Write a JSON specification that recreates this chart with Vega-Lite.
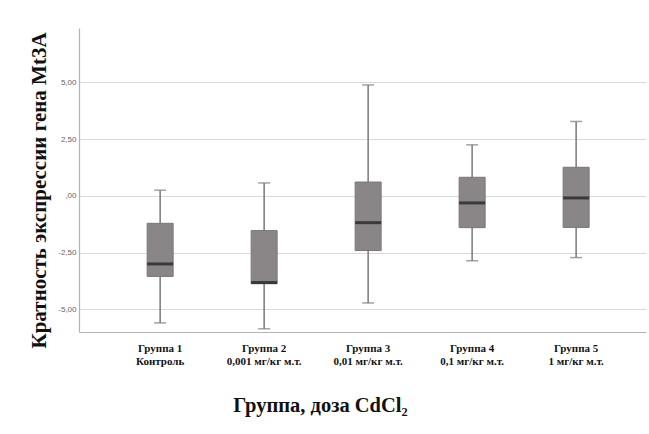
{
  "$schema": "https://vega.github.io/schema/vega-lite/v6.json",
  "autosize": {"type": "none"},
  "width": 567,
  "height": 304,
  "padding": {"left": 79, "top": 28, "right": 3, "bottom": 102},
  "background": "white",
  "config": {
    "view": {"stroke": null},
    "axis": {"domainColor": "#b3b3b3", "domainWidth": 1.2, "gridColor": "#d9d9d9", "gridWidth": 1.2}
  },
  "data": {
    "values": [
      {"group": "Группа 1|Контроль", "lower": -5.6, "q1": -3.55, "median": -3.0, "q3": -1.21, "upper": 0.25},
      {"group": "Группа 2|0,001 мг/кг м.т.", "lower": -5.86, "q1": -3.87, "median": -3.82, "q3": -1.53, "upper": 0.57},
      {"group": "Группа 3|0,01 мг/кг м.т.", "lower": -4.72, "q1": -2.41, "median": -1.18, "q3": 0.61, "upper": 4.89},
      {"group": "Группа 4|0,1 мг/кг м.т.", "lower": -2.86, "q1": -1.4, "median": -0.31, "q3": 0.82, "upper": 2.25},
      {"group": "Группа 5|1 мг/кг м.т.", "lower": -2.72, "q1": -1.39, "median": -0.09, "q3": 1.26, "upper": 3.28}
    ]
  },
  "encoding": {
    "x": {
      "field": "group",
      "type": "nominal",
      "sort": null,
      "scale": {"paddingInner": 0, "paddingOuter": 0.226, "align": 0.62},
      "axis": {
        "labelAngle": 0,
        "labelExpr": "split(datum.value, '|')",
        "labelFont": "Liberation Serif",
        "labelFontWeight": "bold",
        "labelFontSize": 11,
        "labelLineHeight": 13,
        "labelColor": "#111111",
        "labelPadding": 10,
        "ticks": false,
        "grid": false,
        "title": "Группа, доза CdCl₂",
        "titleFont": "Liberation Serif",
        "titleFontWeight": "bold",
        "titleFontSize": 20.5,
        "titleColor": "#111111",
        "titleX": 241,
        "titleY": 79,
        "titleAlign": "center",
        "titleBaseline": "alphabetic"
      }
    }
  },
  "layer": [
    {
      "mark": {"type": "rule", "color": "#7a7a7a", "strokeWidth": 1.5},
      "encoding": {
        "y": {
          "field": "lower",
          "type": "quantitative",
          "scale": {"domain": [-6, 7.4], "nice": false, "zero": false},
          "axis": {
            "values": [-5, -2.5, 0, 2.5, 5],
            "labelExpr": "datum.value == 0 ? ',00' : (datum.value < 0 ? '-' : '') + replace(format(abs(datum.value), '.2f'), '.', ',')",
            "labelFont": "Liberation Sans",
            "labelFontSize": 8,
            "labelColor": "#666666",
            "labelPadding": 3,
            "ticks": false,
            "grid": true,
            "title": "Кратность экспрессии гена Mt3A",
            "titleFont": "Liberation Serif",
            "titleFontWeight": "bold",
            "titleFontSize": 21,
            "titleColor": "#111111",
            "titleX": -34,
            "titleY": 162,
            "titleAngle": -90,
            "titleAlign": "center",
            "titleBaseline": "alphabetic"
          }
        },
        "y2": {"field": "upper"}
      }
    },
    {
      "mark": {"type": "tick", "color": "#7a7a7a", "thickness": 1.5, "size": 12},
      "encoding": {"y": {"field": "lower", "type": "quantitative"}}
    },
    {
      "mark": {"type": "tick", "color": "#7a7a7a", "thickness": 1.5, "size": 12},
      "encoding": {"y": {"field": "upper", "type": "quantitative"}}
    },
    {
      "mark": {"type": "bar", "size": 26, "fill": "#8a8688", "stroke": "#7a7678", "strokeWidth": 1},
      "encoding": {"y": {"field": "q1", "type": "quantitative"}, "y2": {"field": "q3"}}
    },
    {
      "mark": {"type": "tick", "color": "#1a1a1a", "thickness": 3, "size": 26},
      "encoding": {"y": {"field": "median", "type": "quantitative"}}
    }
  ]
}
